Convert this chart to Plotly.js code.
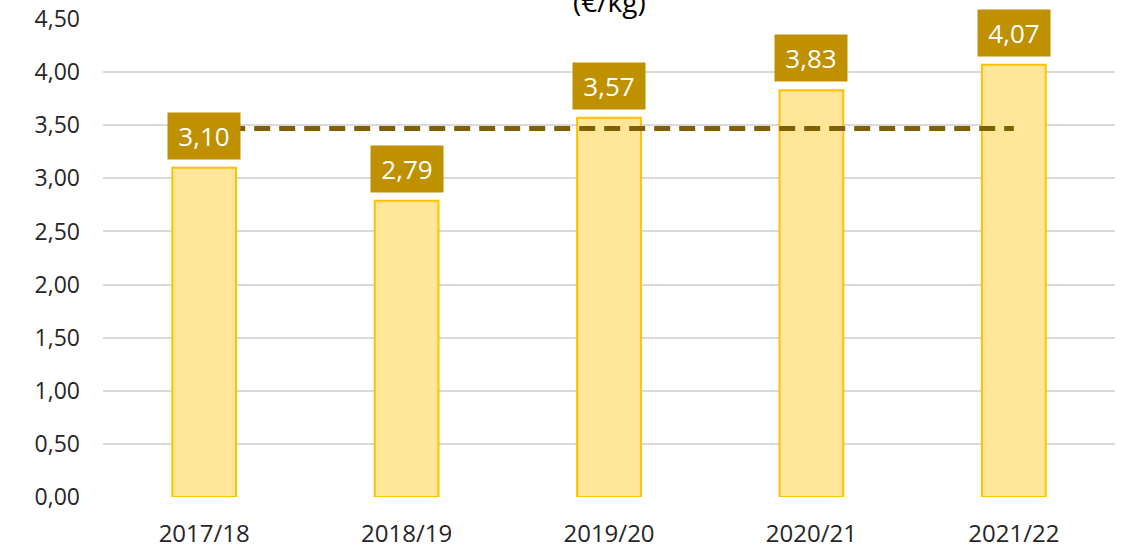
<!DOCTYPE html>
<html>
<head>
<meta charset="utf-8">
<script src="https://cdn.plot.ly/plotly-3.0.1.min.js"></script>
<style>html,body{margin:0;padding:0;background:#fff;}#chart{width:1125px;height:548px;}</style>
</head>
<body>
<div id="chart"></div>
<script>
const categories = ["2017/18", "2018/19", "2019/20", "2020/21", "2021/22"];
const prices = [3.10, 2.79, 3.57, 3.83, 4.07];
const averageValue = 3.47;
const averageLine = categories.map(() => averageValue);
const yTicks = [0, 0.5, 1, 1.5, 2, 2.5, 3, 3.5, 4, 4.5];
const titleText = "(€/kg)";

const fmt = v => v.toFixed(2).replace(".", ",");

const traces = [
  {
    type: "bar",
    x: categories,
    y: prices,
    width: 0.315,
    marker: {color: "#FFE699", line: {color: "#FFC000", width: 2}},
    hoverinfo: "skip"
  },
  {
    type: "scatter",
    mode: "lines",
    x: categories,
    y: averageLine,
    line: {color: "#7F6000", width: 5, dash: "16px,9px"},
    hoverinfo: "skip"
  }
];

const annotations = categories.map((c, i) => ({
  x: c, y: prices[i], xref: "x", yref: "y",
  text: fmt(prices[i]),
  showarrow: false,
  yanchor: "bottom",
  yshift: 8,
  width: 62,
  height: 36,
  bgcolor: "#BF9000",
  borderpad: 5,
  font: {family: "Open Sans, sans-serif", size: 26, color: "#ffffff"}
}));
annotations.push({
  x: 0.5, y: 1, xref: "paper", yref: "paper",
  text: titleText, showarrow: false,
  yanchor: "bottom", yshift: -3,
  font: {family: "Open Sans, sans-serif", size: 28, color: "#000000"}
});

const layout = {
  width: 1125, height: 548,
  margin: {l: 103, r: 10, t: 19, b: 51},
  paper_bgcolor: "#ffffff",
  plot_bgcolor: "#ffffff",
  separators: ", ",
  showlegend: false,
  xaxis: {
    type: "category",
    tickfont: {family: "Open Sans, sans-serif", size: 24, color: "#262626"},
    showgrid: false, zeroline: false, showline: false,
    ticks: "", ticklabelstandoff: 20
  },
  yaxis: {
    range: [0, 4.5],
    tickvals: yTicks,
    ticktext: yTicks.map(fmt),
    tickfont: {family: "Open Sans, sans-serif", size: 23, color: "#262626"},
    showgrid: true, gridcolor: "#D9D9D9", gridwidth: 2,
    zeroline: false, showline: false,
    ticks: "", ticklabelstandoff: 22
  },
  annotations: annotations
};

Plotly.newPlot("chart", traces, layout, {displayModeBar: false, staticPlot: true});
</script>
</body>
</html>
